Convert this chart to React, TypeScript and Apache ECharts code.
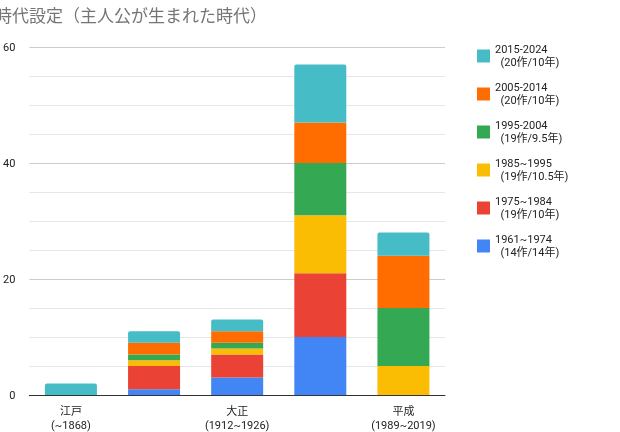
import * as echarts from "echarts";
import { useEffect, useRef } from "react";

const categories = ["江戸\n(~1868)", "明治\n(1868~1912)", "大正\n(1912~1926)", "昭和\n(1926~1989)", "平成\n(1989~2019)"];
const seriesNames = [
  "1961~1974\n  (14作/14年)",
  "1975~1984\n  (19作/10年)",
  "1985~1995\n  (19作/10.5年)",
  "1995-2004\n  (19作/9.5年)",
  "2005-2014\n  (20作/10年)",
  "2015-2024\n  (20作/10年)",
];
const colors = ["#4285f4", "#ea4335", "#fbbc04", "#34a853", "#ff6d01", "#46bdc6"];
const s1961 = [0, 1, 3, 10, 0];
const s1975 = [0, 4, 4, 11, 0];
const s1985 = [0, 1, 1, 10, 5];
const s1995 = [0, 1, 1, 9, 10];
const s2005 = [0, 2, 2, 7, 9];
const s2015 = [2, 2, 2, 10, 4];
const values = [s1961, s1975, s1985, s1995, s2005, s2015];

export default function App() {
  const ref = useRef<HTMLDivElement>(null);

  useEffect(() => {
    if (!ref.current) return;
    const chart = echarts.init(ref.current, null, { renderer: "svg" });
    chart.setOption({
      animation: false,
      textStyle: { fontFamily: "Roboto, 'Noto Sans CJK JP', sans-serif" },
      title: {
        text: "時代設定（主人公が生まれた時代）",
        left: -10,
        top: 1,
        textStyle: { fontSize: 17, fontWeight: "normal", color: "#757575", fontFamily: "'Noto Sans CJK JP', sans-serif" },
      },
      grid: { left: 22, right: 175, top: 47, bottom: 32 },
      legend: {
        left: 472,
        top: 38,
        orient: "vertical",
        itemWidth: 13,
        itemHeight: 13,
        itemGap: 12,
        icon: "rect",
        data: [...seriesNames].reverse(),
        textStyle: { fontSize: 11, color: "#222", lineHeight: 13, fontFamily: "Roboto, 'Noto Sans CJK JP', sans-serif" },
      },
      xAxis: {
        type: "category",
        data: categories,
        axisTick: { show: false },
        axisLine: { lineStyle: { color: "#333" } },
        axisLabel: { color: "#222", fontSize: 11, lineHeight: 14, margin: 9, fontFamily: "Roboto, 'Noto Sans CJK JP', sans-serif" },
      },
      yAxis: {
        type: "value",
        min: 0,
        max: 60,
        interval: 20,
        minorTick: { show: false, splitNumber: 4 },
        minorSplitLine: { show: true, lineStyle: { color: "#e6e6e6" } },
        splitLine: { lineStyle: { color: "#ccc" } },
        axisLabel: { color: "#222", fontSize: 11, margin: 14 },
      },
      series: values.map((data, i) => ({
        name: seriesNames[i],
        type: "bar",
        stack: "all",
        barWidth: 52,
        data,
        itemStyle: { color: colors[i], borderRadius: i === 5 ? [2, 2, 0, 0] : 0 },
      })),
    });
    return () => chart.dispose();
  }, []);

  return <div ref={ref} style={{ position: "fixed", left: 0, top: 0, width: 620, height: 432 }} />;
}
